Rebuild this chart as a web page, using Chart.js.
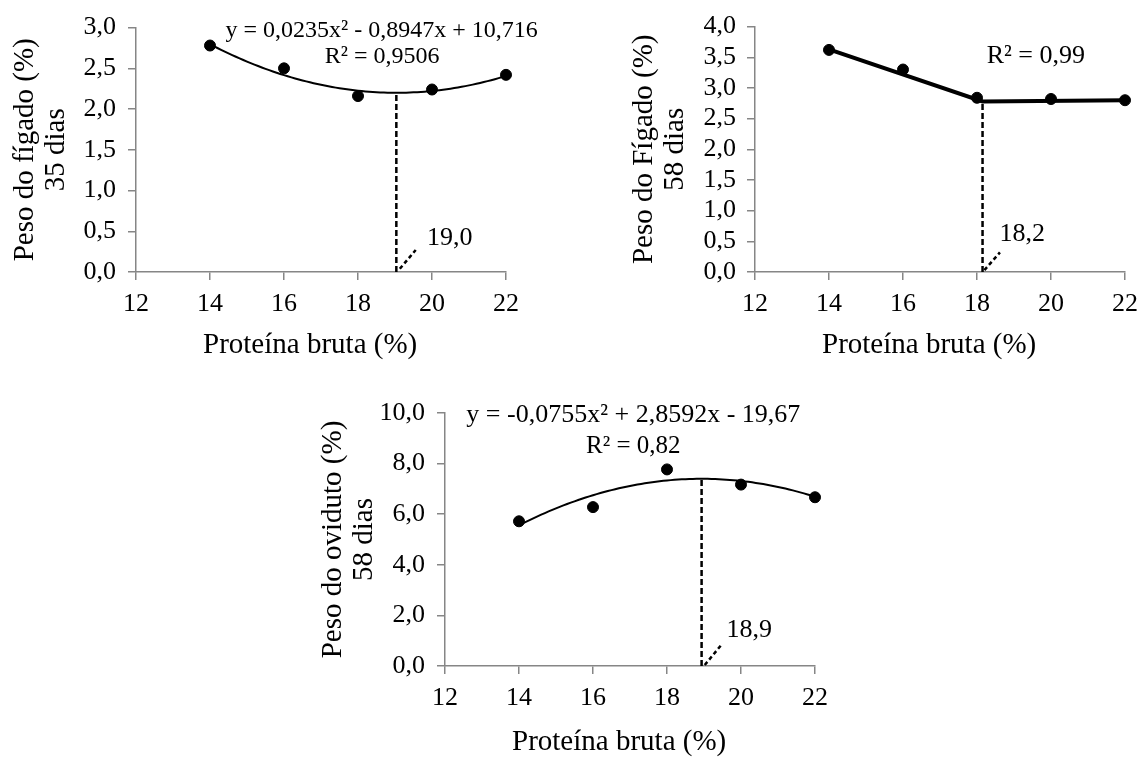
<!DOCTYPE html>
<html>
<head>
<meta charset="utf-8">
<script src="https://cdn.jsdelivr.net/npm/chart.js@4.4.1/dist/chart.umd.min.js"></script>
<style>
  html, body { margin: 0; padding: 0; background: #fff; }
  #page { position: relative; width: 1148px; height: 758px; overflow: hidden; }
  .box { position: absolute; }
</style>
</head>
<body>
<div id="page">
  <div class="box" style="left:0;top:0;width:574px;height:368px"><canvas id="c1"></canvas></div>
  <div class="box" style="left:574px;top:0;width:574px;height:368px"><canvas id="c2"></canvas></div>
  <div class="box" style="left:280px;top:380px;width:600px;height:378px"><canvas id="c3"></canvas></div>
</div>
<script>
// proteina bruta levels (x)
var proteina = [14, 16, 18, 20, 22];
// observed means
var figado35 = [2.78, 2.50, 2.16, 2.24, 2.42];
var figado58 = [3.62, 3.30, 2.84, 2.82, 2.80];
var oviduto58 = [5.72, 6.28, 7.77, 7.17, 6.67];

// regression equations printed on the chart: a*x^2 + b*x + c
var coefFigado35 = [0.0235, -0.8947, 10.716];
var coefOviduto58 = [-0.0755, 2.8592, -19.67];

// linear-plateau fit of figado 58 dias (vertices)
var platoX = [14, 18.15, 22];
var platoY = [3.63, 2.78, 2.80];

var FONT = '"Liberation Serif", "Times New Roman", serif';
var AXIS = '#868686';
// trailing spaces nudge the centred title a little left, as in the original
var X_TITLE = 'Proteína bruta (%)   ';

function quad(c, x) { return c[0] * x * x + c[1] * x + c[2]; }
function vertex(c) { return -c[1] / (2 * c[0]); }

function pts(xs, ys) {
  return xs.map(function (x, i) { return { x: x, y: ys[i] }; });
}

// fitted curve over the observed range, from the printed equation
function curve(c) {
  var out = [];
  for (var i = 0; i <= 80; i++) {
    var x = 14 + i * 0.1;
    out.push({ x: x, y: quad(c, x) });
  }
  return out;
}

function comma(v) { return v.toFixed(1).replace('.', ','); }

// text notes placed in data units: [text, x, y, fontSize]
function notes(items) {
  return {
    id: 'notes',
    afterDatasetsDraw: function (chart) {
      var ctx = chart.ctx, xs = chart.scales.x, ys = chart.scales.y;
      ctx.save();
      ctx.fillStyle = '#000';
      ctx.textAlign = 'center';
      ctx.textBaseline = 'middle';
      items.forEach(function (n) {
        ctx.font = (n[3] || 24) + 'px ' + FONT;
        ctx.fillText(n[0], xs.getPixelForValue(n[1]), ys.getPixelForValue(n[2]));
      });
      ctx.restore();
    }
  };
}

function dotSet(data) {
  return { data: data, pointRadius: 5.5, pointBackgroundColor: '#000', pointBorderColor: '#000', showLine: false, clip: false };
}
function lineSet(data, w, dash) {
  return { data: data, showLine: true, borderColor: '#000', borderWidth: w, borderDash: dash || [], pointRadius: 0, tension: 0, clip: false };
}

function makeChart(id, o) {
  return new Chart(document.getElementById(id), {
    type: 'scatter',
    data: { datasets: o.datasets },
    options: {
      responsive: true,
      maintainAspectRatio: false,
      animation: false,
      layout: { padding: o.pad },
      plugins: { legend: { display: false }, tooltip: { enabled: false } },
      scales: {
        x: {
          type: 'linear', min: 12, max: 22,
          ticks: { stepSize: 2, color: '#000', font: { family: FONT, size: 26 }, padding: 9, maxRotation: 0, autoSkip: false },
          grid: { drawOnChartArea: false, drawTicks: true, tickLength: 8, color: AXIS, lineWidth: 1.5 },
          border: { color: AXIS, width: 1.5 },
          title: { display: true, text: X_TITLE, color: '#000', font: { family: FONT, size: 29, lineHeight: 1.1 }, padding: { top: 0, bottom: o.xTitlePad } },
          afterFit: function (s) { s.height = o.xHeight; }
        },
        y: {
          type: 'linear', min: 0, max: o.yMax,
          ticks: { stepSize: o.yStep, color: '#000', font: { family: FONT, size: 26 }, padding: o.yTickPad, autoSkip: false, callback: comma },
          grid: { drawOnChartArea: false, drawTicks: true, tickLength: 8, color: AXIS, lineWidth: 1.5 },
          border: { color: AXIS, width: 1.5 },
          title: { display: true, text: o.yTitle, color: '#000', font: { family: FONT, size: 29, lineHeight: 1.1 }, padding: { top: o.yTitlePad, bottom: 0 } },
          afterFit: function (s) { s.width = o.yWidth; }
        }
      }
    },
    plugins: [notes(o.notes)]
  });
}

// Peso do figado, 35 dias
var v1 = vertex(coefFigado35);
makeChart('c1', {
  pad: { left: 0, top: 19, right: 68, bottom: 0 },
  yWidth: 136, xHeight: 96, xTitlePad: 7, yTitlePad: 9, yTickPad: 12,
  yMax: 3, yStep: 0.5,
  yTitle: ['Peso do fígado (%)', '35 dias'],
  datasets: [
    dotSet(pts(proteina, figado35)),
    lineSet(curve(coefFigado35), 2),
    lineSet([{ x: v1, y: 0 }, { x: v1, y: quad(coefFigado35, v1) }], 2.5, [6, 3]),
    lineSet([{ x: 19.13, y: 0.04 }, { x: 19.56, y: 0.27 }], 2.5, [4, 3])
  ],
  notes: [
    ['y = 0,0235x² - 0,8947x + 10,716', 18.64, 2.96, 24],
    ['R² = 0,9506', 18.65, 2.64, 24],
    ['19,0', 20.48, 0.42, 26]
  ]
});

// Peso do figado, 58 dias
makeChart('c2', {
  pad: { left: 0, top: 19, right: 23, bottom: 0 },
  yWidth: 181, xHeight: 96, xTitlePad: 7, yTitlePad: 54, yTickPad: 11,
  yMax: 4, yStep: 0.5,
  yTitle: ['Peso do Fígado (%)', '58 dias'],
  datasets: [
    dotSet(pts(proteina, figado58)),
    lineSet(pts(platoX, platoY), 4),
    lineSet([{ x: platoX[1], y: 0 }, { x: platoX[1], y: platoY[1] }], 2.5, [6, 3]),
    lineSet([{ x: 18.2, y: 0.03 }, { x: 18.62, y: 0.32 }], 2.5, [4, 3])
  ],
  notes: [
    ['R² = 0,99', 19.59, 3.51, 26],
    ['18,2', 19.22, 0.62, 26]
  ]
});

// Peso do oviduto, 58 dias
var v3 = vertex(coefOviduto58);
makeChart('c3', {
  pad: { left: 0, top: 33, right: 65, bottom: 0 },
  yWidth: 165, xHeight: 92, xTitlePad: 0, yTitlePad: 37, yTickPad: 12,
  yMax: 10, yStep: 2,
  yTitle: ['Peso do oviduto (%)', '58 dias'],
  datasets: [
    dotSet(pts(proteina, oviduto58)),
    lineSet(curve(coefOviduto58), 2),
    lineSet([{ x: v3, y: 0 }, { x: v3, y: quad(coefOviduto58, v3) }], 2.5, [6, 3]),
    lineSet([{ x: 19.02, y: 0.04 }, { x: 19.46, y: 0.82 }], 2.5, [4, 3])
  ],
  notes: [
    ['y = -0,0755x² + 2,8592x - 19,67', 17.09, 9.92, 26],
    ['R² = 0,82', 17.09, 8.66, 25],
    ['18,9', 20.22, 1.42, 26]
  ]
});
</script>
</body>
</html>
